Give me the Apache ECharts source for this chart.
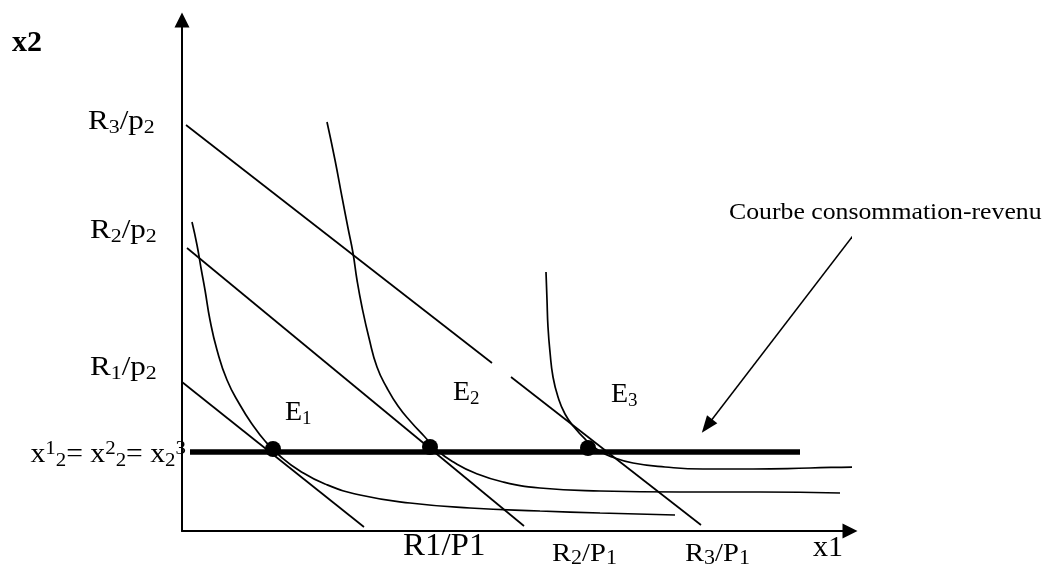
<!DOCTYPE html>
<html><head><meta charset="utf-8">
<script src="https://cdn.jsdelivr.net/npm/echarts@6/dist/echarts.min.js"></script>
<style>html,body{margin:0;padding:0;background:#fff}#c{width:1057px;height:573px}</style>
</head><body><div id="c"></div>
<script>
// Values in diagram units (origin at the axes' intersection)
const budgetR1 = [[0,149],[182,4]];
const budgetR2 = [[5,283],[342,5]];
const budgetR3a = [[4,406],[310,168]];
const budgetR3b = [[329,154],[519,6]];
const indifference1 = [[10,309],[15,286],[19,263],[23,241],[28,211],[35,181],[45,151],[58,126],[70,107],[83,90],[98,75],[118,60],[143,47],[178,36],[228,28],[288,23],[358,20],[418,18],[493,16]];
const indifference2 = [[145,409],[153,371],[160,334],[166,303],[171,278],[175,251],[180,224],[187,193],[195,164],[205,143],[216,125],[229,109],[242,95],[256,80],[273,68],[293,58],[321,49],[358,43],[418,40],[498,39],[578,39],[658,38]];
const indifference3 = [[364,259],[365,231],[366,204],[368,179],[371,154],[376,134],[383,117],[392,104],[404,91],[416,81],[430,74],[451,68],[483,64],[521,62],[571,62],[628,63],[678,64],[700,64]];
const incomeConsumption = [[8,79],[618,79]];
const equilibria = [[91,82],[248,84],[406,83]];
const calloutArrow = [[673,298],[525,105]];
const yTickLabels = ['R3/p2','R2/p2','R1/p2'];
const xTickLabels = ['R1/P1','R2/P1','R3/P1'];
const equilibriumNames = ['E1','E2','E3'];
const axisNames = ['x2','x1'];
const calloutText = 'Courbe consommation-revenu';

const FONT = "'Liberation Serif', 'Times New Roman', serif";
const chart = echarts.init(document.getElementById('c'), null, {renderer:'canvas'});
const thin = {color:'#000', width:1.7};
function lineSeries(d, smooth){
  return {type:'line', data:d, symbol:'none', smooth: smooth ? 0.5 : false,
    clip:false, silent:true, lineStyle:thin, itemStyle:{color:'#000'}, z:3};
}
const option = {
  animation:false,
  backgroundColor:'#fff',
  grid:{left:182, right:207, top:20, bottom:42},
  xAxis:{type:'value', min:0, max:668, splitLine:{show:false}, axisTick:{show:false}, axisLabel:{show:false},
    axisLine:{show:true, onZero:false, symbol:['none','triangle'], symbolSize:[15,15], lineStyle:{color:'#000', width:2}}},
  yAxis:{type:'value', min:0, max:511, splitLine:{show:false}, axisTick:{show:false}, axisLabel:{show:false},
    axisLine:{show:true, onZero:false, symbol:['none','triangle'], symbolSize:[15,15], lineStyle:{color:'#000', width:2}}},
  series:[
    lineSeries(budgetR1,false), lineSeries(budgetR2,false), lineSeries(budgetR3a,false), lineSeries(budgetR3b,false),
    lineSeries(indifference1,true), lineSeries(indifference2,true), lineSeries(indifference3,true),
    {type:'line', data:incomeConsumption, symbol:'none', clip:false, silent:true, lineStyle:{color:'#000', width:5.5}, z:4},
    {type:'scatter', data:equilibria, symbol:'circle', symbolSize:16, itemStyle:{color:'#000', opacity:1}, silent:true, z:5},
    {type:'line', data:calloutArrow, symbol:'none', clip:false, silent:true, lineStyle:{color:'#000', width:1.5}, z:3},
    {type:'scatter', id:'arrowHead', data:[calloutArrow[1]], symbol:'triangle', symbolSize:[13,17], clip:false,
      itemStyle:{color:'#000', opacity:1}, silent:true, z:5}
  ]
};
chart.setOption(option);

// orient the callout arrow head along its line
const pA = chart.convertToPixel({gridIndex:0}, calloutArrow[0]);
const pB = chart.convertToPixel({gridIndex:0}, calloutArrow[1]);
const ang = Math.atan2(-(pB[1]-pA[1]), pB[0]-pA[0]) * 180 / Math.PI - 90;
chart.setOption({series:[{id:'arrowHead', symbolRotate: ang}]});

function sub(main, s){ return '{m|'+main+'}{s|'+s+'}'; }
function splitLabel(t){ // 'R3/p2' -> R, 3, /p, 2
  return '{m|'+t[0]+'}{s|'+t[1]+'}{m|'+t.slice(2,4)+'}{s|'+t[4]+'}';
}
function rt(size, subSize){
  return {m:{fontSize:size, lineHeight:size+4, fontFamily:FONT, color:'#000'},
          s:{fontSize:subSize, lineHeight:subSize, verticalAlign:'bottom', fontFamily:FONT, color:'#000'},
          p:{fontSize:subSize, lineHeight:subSize, verticalAlign:'top', fontFamily:FONT, color:'#000'}};
}
function txt(x, y, text, rich, opts){
  opts = opts || {};
  return {type:'text', x:x, y:y, scaleX: opts.scaleX || 1, silent:true, z:10,
    style:{text:text, rich:rich, fill:'#000', font: opts.font || ('26px '+FONT),
      align: opts.align || 'left', verticalAlign:'middle', textAlign: opts.align || 'left', textVerticalAlign:'middle'}};
}
const g = [];
g.push(txt(12, 43, axisNames[0], null, {font:'bold 30px '+FONT}));
const yPos = [[88,122],[90,231],[90,368]];
yTickLabels.forEach((t,i)=> g.push(txt(yPos[i][0], yPos[i][1], splitLabel(t), rt(27,19), {scaleX:1.15})));
g.push(txt(186, 455, '{m|x}{p|1}{s|2}{m|= x}{p|2}{s|2}{m|= x}{s|2}{p|3}', rt(27,19), {align:'right', scaleX:1.1}));
const ePos = [[285,413],[453,393],[611,395]];
equilibriumNames.forEach((t,i)=> g.push(txt(ePos[i][0], ePos[i][1], sub(t[0], t[1]), rt(28,19))));
g.push(txt(403, 547, xTickLabels[0], null, {font:'32px '+FONT, scaleX:1.03}));
const xPos = [[552,554],[685,554]];
[1,2].forEach((k,i)=> g.push(txt(xPos[i][0], xPos[i][1], splitLabel(xTickLabels[k]), rt(26,20), {scaleX:1.1})));
g.push(txt(813, 548, axisNames[1], null, {font:'30px '+FONT}));
g.push(txt(729, 213, calloutText, null, {font:'23px '+FONT, scaleX:1.12}));
chart.setOption({graphic:{elements:g}});
</script></body></html>
